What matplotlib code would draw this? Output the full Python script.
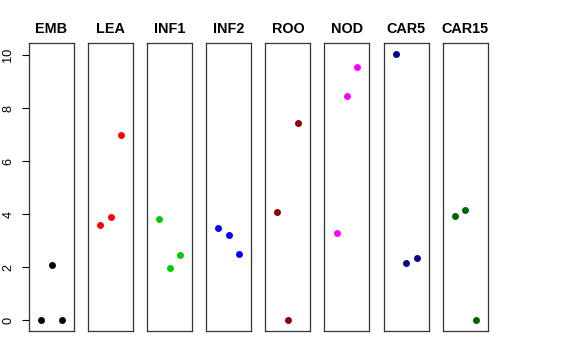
import matplotlib
matplotlib.use("Agg")
import matplotlib.pyplot as plt

# -------------------------------
# Data
# -------------------------------
groups = ["EMB", "LEA", "INF1", "INF2", "ROO", "NOD", "CAR5", "CAR15"]
colors = ["#000000", "#FF0000", "#00CD00", "#0000FF",
          "#8B0000", "#FF00FF", "#00008B", "#006400"]
positions = [1, 2, 3]
values = [
    [0.0, 2.10, 0.0],
    [3.58, 3.88, 6.98],
    [3.83, 1.97, 2.45],
    [3.48, 3.20, 2.49],
    [4.08, 0.0, 7.45],
    [3.29, 8.47, 9.54],
    [10.05, 2.17, 2.36],
    [3.94, 4.16, 0.0],
]
yticks = [0, 2, 4, 6, 8, 10]

# -------------------------------
# Plot
# -------------------------------
plt.rcParams["font.family"] = ["Liberation Sans", "DejaVu Sans"]
fig = plt.figure(figsize=(5.76, 3.6), dpi=100)

left0 = 29 / 576
step = 59.1 / 576
width = 45 / 576
bottom = 1 - 331 / 360
height = 288 / 360

ymin, ymax = -0.40, 10.45

for i, (name, col, vals) in enumerate(zip(groups, colors, values)):
    ax = fig.add_axes([left0 + i * step, bottom, width, height])
    ax.plot(positions, vals, "o", color=col, markersize=5, markeredgewidth=0)
    ax.set_xlim(-0.16, 4.16)
    ax.set_ylim(ymin, ymax)
    ax.set_xticks([])
    for s in ax.spines.values():
        s.set_linewidth(0.9)
        s.set_color("#333333")
    if i == 0:
        ax.set_yticks(yticks)
        ax.set_yticklabels([str(t) for t in yticks], rotation=90, va="center")
        ax.tick_params(axis="y", length=5, width=0.8, pad=5.5, labelsize=9.2)
    else:
        ax.set_yticks([])
    ax.set_title(name, fontsize=10.4, fontweight="bold", pad=7)

fig.savefig("out.png", dpi=100)
